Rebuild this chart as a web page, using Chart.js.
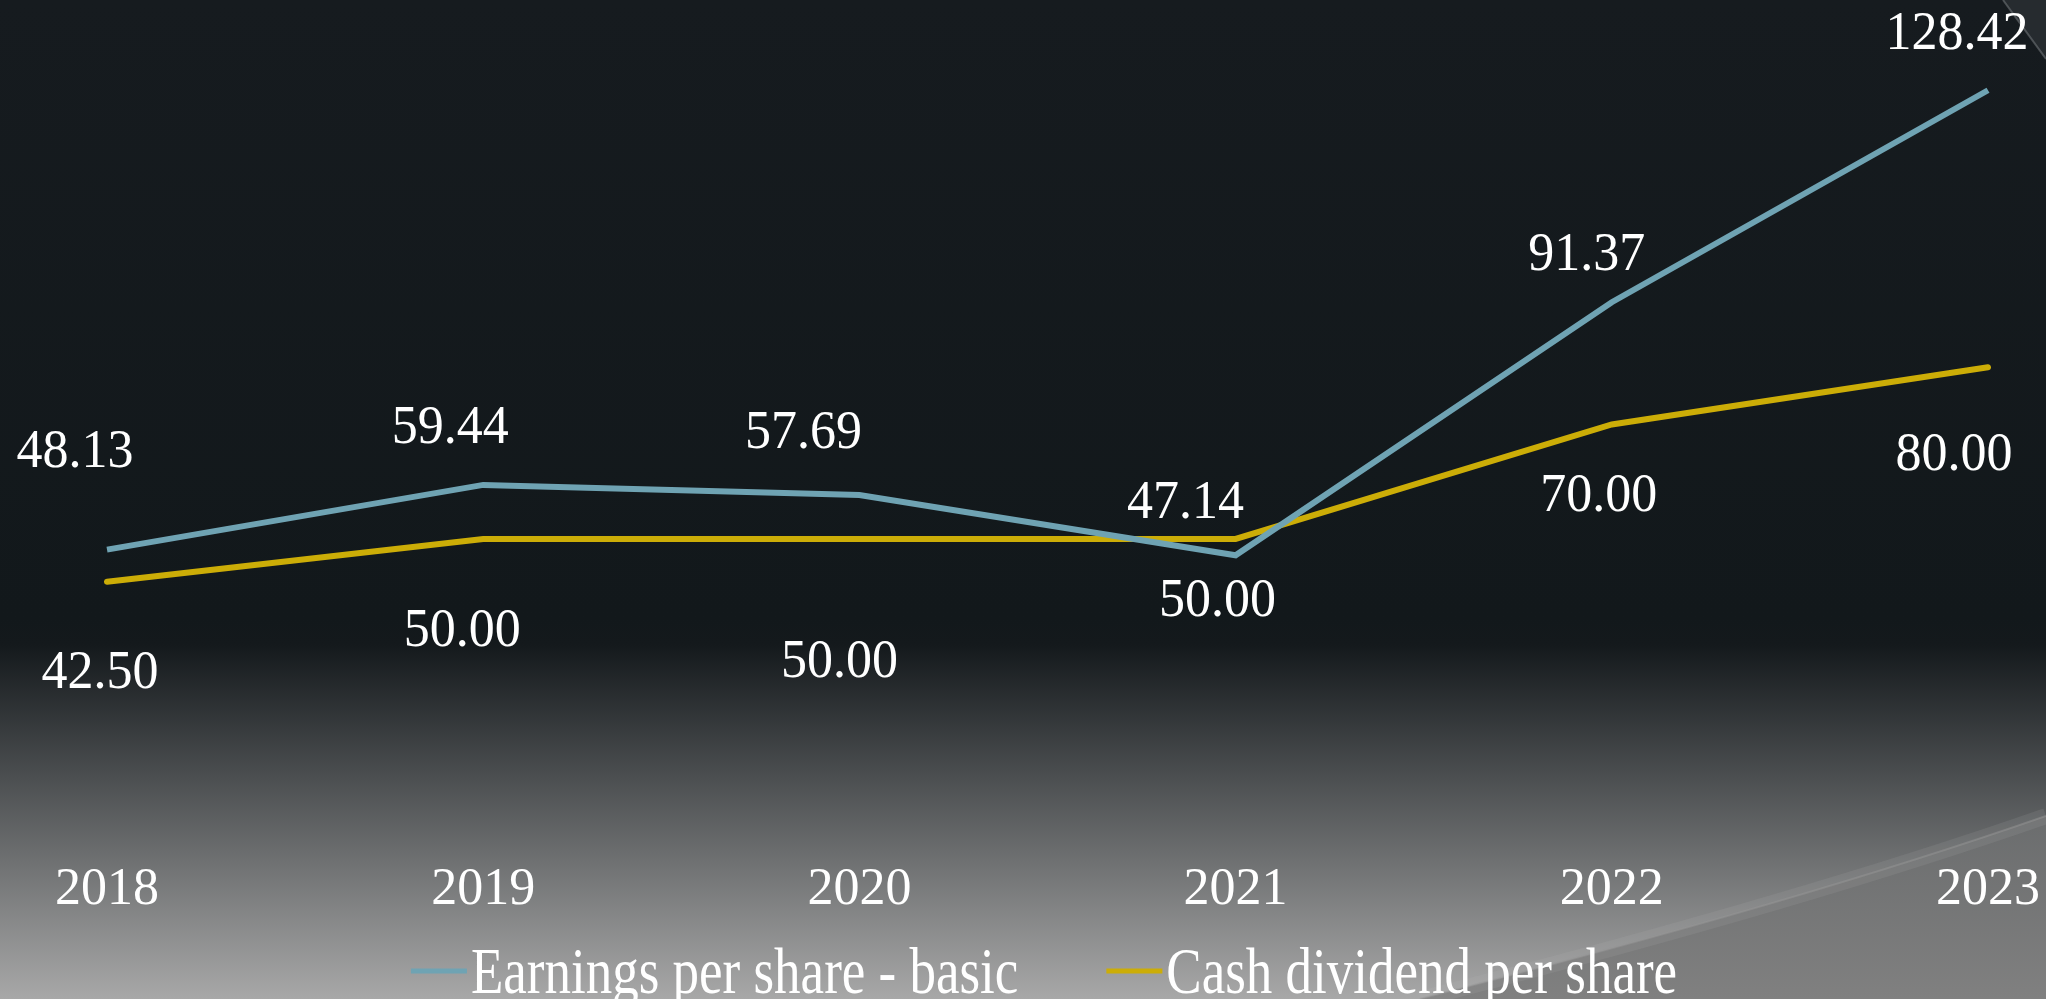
<!DOCTYPE html>
<html>
<head>
<meta charset="utf-8">
<script src="https://cdn.jsdelivr.net/npm/chart.js@4/dist/chart.umd.min.js"></script>
<style>
  html, body { margin: 0; padding: 0; background: #14191c; overflow: hidden; }
  #c { display: block; }
</style>
</head>
<body>
<canvas id="c" width="2046" height="999"></canvas>
<script>
// ---- data ----
const categories = ['2018', '2019', '2020', '2021', '2022', '2023'];
const epsBasic = [48.13, 59.44, 57.69, 47.14, 91.37, 128.42];
const cashDividend = [42.50, 50.00, 50.00, 50.00, 70.00, 80.00];
const seriesNames = ['Earnings per share - basic', 'Cash dividend per share'];

const FONT = '"Liberation Serif", "Times New Roman", serif';

// background: dark top, grey gradient at the bottom, soft swoosh at bottom-right
const backgroundPlugin = {
  id: 'bg',
  beforeDraw(chart) {
    const ctx = chart.ctx, W = chart.width, H = chart.height;
    ctx.save();
    const g = ctx.createLinearGradient(0, 0, 0, H);
    g.addColorStop(0, '#161b1f');
    g.addColorStop(0.62, '#12181b');
    g.addColorStop(0.645, '#14191c');
    g.addColorStop(1, '#a8a8a8');
    ctx.fillStyle = g;
    ctx.fillRect(0, 0, W, H);

    // swoosh area bottom-right
    const curve = () => {
      ctx.beginPath();
      ctx.moveTo(1420, H);
      ctx.quadraticCurveTo(1800, 902, W, 816);
    };
    curve();
    ctx.lineTo(W, H);
    ctx.closePath();
    const g2 = ctx.createLinearGradient(0, 810, 0, H);
    g2.addColorStop(0, '#6a6c6d');
    g2.addColorStop(1, '#808080');
    ctx.fillStyle = g2;
    ctx.fill();
    // highlight along edge
    curve();
    ctx.strokeStyle = 'rgba(190,190,190,0.12)';
    ctx.lineWidth = 16;
    ctx.stroke();
    ctx.strokeStyle = 'rgba(150,150,150,0.5)';
    ctx.lineWidth = 2;
    ctx.stroke();

    // corner band at top-right
    ctx.beginPath();
    ctx.moveTo(2003, 0);
    ctx.lineTo(W, 0);
    ctx.lineTo(W, 59);
    ctx.closePath();
    ctx.fillStyle = '#262b2f';
    ctx.fill();
    ctx.beginPath();
    ctx.moveTo(2003, 0);
    ctx.lineTo(W, 59);
    ctx.strokeStyle = 'rgba(110,115,118,0.6)';
    ctx.lineWidth = 2;
    ctx.stroke();
    ctx.restore();
  }
};

// value labels next to each point
const valueLabelPlugin = {
  id: 'valueLabels',
  afterDatasetsDraw(chart, args, opts) {
    const ctx = chart.ctx;
    ctx.save();
    ctx.fillStyle = '#ffffff';
    ctx.font = opts.size + 'px ' + FONT;
    ctx.textAlign = 'center';
    ctx.textBaseline = 'middle';
    chart.data.datasets.forEach((ds, di) => {
      const meta = chart.getDatasetMeta(di);
      const offs = opts.offsets[di];
      meta.data.forEach((pt, i) => {
        const o = offs[i];
        ctx.save();
        ctx.translate(pt.x + o[0], pt.y + o[1] + opts.dy);
        ctx.scale(1, opts.stretch);
        ctx.fillText(ds.data[i].toFixed(2), 0, 0);
        ctx.restore();
      });
    });
    ctx.restore();
  }
};

// legend drawn with line samples tight to text
const legendPlugin = {
  id: 'lineLegend',
  afterDraw(chart, args, opts) {
    const ctx = chart.ctx;
    ctx.save();
    ctx.font = opts.size + 'px ' + FONT;
    ctx.textBaseline = 'alphabetic';
    ctx.textAlign = 'left';
    const ds = chart.data.datasets;
    const widths = ds.map(d => opts.sample + opts.gap + ctx.measureText(d.label).width);
    const total = widths.reduce((a, b) => a + b, 0) + opts.itemGap * (ds.length - 1);
    let x = chart.width / 2 - total / 2 + opts.shift;
    ds.forEach((d, i) => {
      ctx.fillStyle = d.borderColor;
      ctx.fillRect(x, opts.lineY - 2.5, opts.sample, 5);
      ctx.save();
      ctx.translate(x + opts.sample + opts.gap, opts.baseline);
      ctx.scale(1, opts.stretch);
      ctx.fillStyle = '#ffffff';
      ctx.fillText(d.label, 0, 0);
      ctx.restore();
      x += widths[i] + opts.itemGap;
    });
    ctx.restore();
  }
};

new Chart(document.getElementById('c'), {
  type: 'line',
  data: {
    labels: categories,
    datasets: [
      {
        label: seriesNames[0],
        data: epsBasic,
        borderColor: '#6fa3b3',
        backgroundColor: '#6fa3b3',
        borderWidth: 6,
        borderCapStyle: 'butt',
        pointRadius: 0,
        tension: 0
      },
      {
        label: seriesNames[1],
        data: cashDividend,
        borderColor: '#ccad07',
        backgroundColor: '#ccad07',
        borderWidth: 6,
        borderCapStyle: 'round',
        pointRadius: 0,
        tension: 0
      }
    ]
  },
  options: {
    responsive: false,
    animation: false,
    devicePixelRatio: 1,
    layout: { padding: { top: 24, left: 107, right: 58, bottom: 0 } },
    scales: {
      x: {
        grid: { display: false, drawTicks: false },
        border: { display: false },
        ticks: {
          color: '#ffffff',
          padding: 34,
          font: { family: FONT, size: 52 },
          maxRotation: 0,
          autoSkip: false
        },
        afterFit(scale) {
          scale.height = 174;
          scale.paddingLeft = 0;
          scale.paddingRight = 0;
        }
      },
      y: {
        display: false,
        min: 0,
        max: 140
      }
    },
    plugins: {
      legend: { display: false },
      tooltip: { enabled: false },
      valueLabels: {
        size: 52,
        stretch: 1.07,
        dy: 3,
        offsets: [
          [[-32, -100], [-33, -60], [-56, -65], [-50, -55], [-25, -50], [-31, -59]],
          [[-7, 89], [-21, 89], [-20, 120], [-18, 59], [-13, 69], [-34, 85]]
        ]
      },
      lineLegend: {
        size: 53,
        stretch: 1.25,
        sample: 56,
        gap: 4,
        itemGap: 88,
        lineY: 971,
        baseline: 993,
        shift: 21
      }
    }
  },
  plugins: [backgroundPlugin, valueLabelPlugin, legendPlugin]
});
</script>
</body>
</html>
